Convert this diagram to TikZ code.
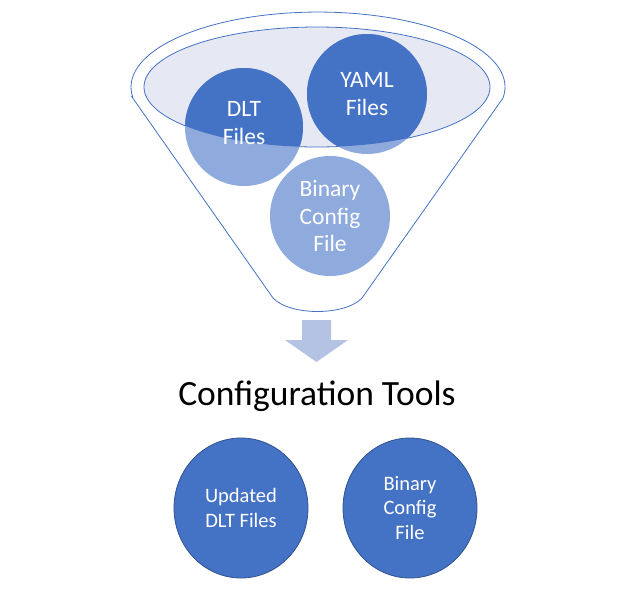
\documentclass[tikz,border=0pt]{standalone}
\usepackage{fontspec}
\setmainfont{Carlito}
\usetikzlibrary{shapes.geometric}

\definecolor{accent}{RGB}{68,114,196}
\definecolor{accentlight}{RGB}{143,170,220}
\definecolor{accentdark}{RGB}{47,82,143}
\definecolor{funnelfill}{RGB}{230,233,244}
\definecolor{arrowfill}{RGB}{180,195,227}

\tikzset{
    bubble/.style={circle,minimum size=118pt,inner sep=0pt,align=center,text=white,
        font=\fontsize{23.5}{27.5}\selectfont},
    result/.style={ellipse,minimum width=134pt,minimum height=140pt,inner sep=0pt,align=center,
        text=white,fill=accent,draw=accentdark,line width=0.8pt,font=\fontsize{20.5}{24.5}\selectfont}
}

\begin{document}
\begin{tikzpicture}[x=1pt,y=1pt]
    \useasboundingbox (0,0) rectangle (621,-598);

    \coordinate (dltc)  at (244,-127);
    \coordinate (yamlc) at (367,-94);
    \coordinate (binc)  at (330,-216);

    \begin{scope}[draw=accent,line width=0.8pt]
        \draw (132,-97) -- (273,-298) .. controls (290,-316) and (345,-316) .. (362,-298)
            -- (503,-98) arc [start angle=-8.4,end angle=188,x radius=187,y radius=75] -- cycle;
        \filldraw [fill=funnelfill] (317,-87) ellipse [x radius=173,y radius=60];
    \end{scope}

    \fill [accentlight] (dltc) circle [radius=59];
    \fill [accentlight] (yamlc) circle [radius=60];
    \fill [accentlight] (binc) circle [radius=60];
    \begin{scope}
        \clip (317,-87) ellipse [x radius=173,y radius=60];
        \fill [accent] (dltc) circle [radius=59];
        \fill [accent] (yamlc) circle [radius=60];
    \end{scope}

    \node [bubble,yshift=4pt] (dlt) at (dltc) {DLT\\Files};
    \node [bubble] (yaml) at (yamlc) {YAML\\Files};
    \node [bubble] (bin)  at (binc)  {Binary\\Config\\File};

    \fill [arrowfill] (302,-320) -- (331,-320) -- (331,-340) -- (348,-340) -- (316.5,-362)
        -- (285,-340) -- (302,-340) -- cycle;

    \node [anchor=base,font=\fontsize{35.5}{40}\selectfont] (tools) at (317,-405) {Configuration Tools};

    \node [result] (updated) at (241,-508) {Updated\\DLT Files};
    \node [result] (binout)  at (410,-508) {Binary\\Config\\File};
\end{tikzpicture}
\end{document}
